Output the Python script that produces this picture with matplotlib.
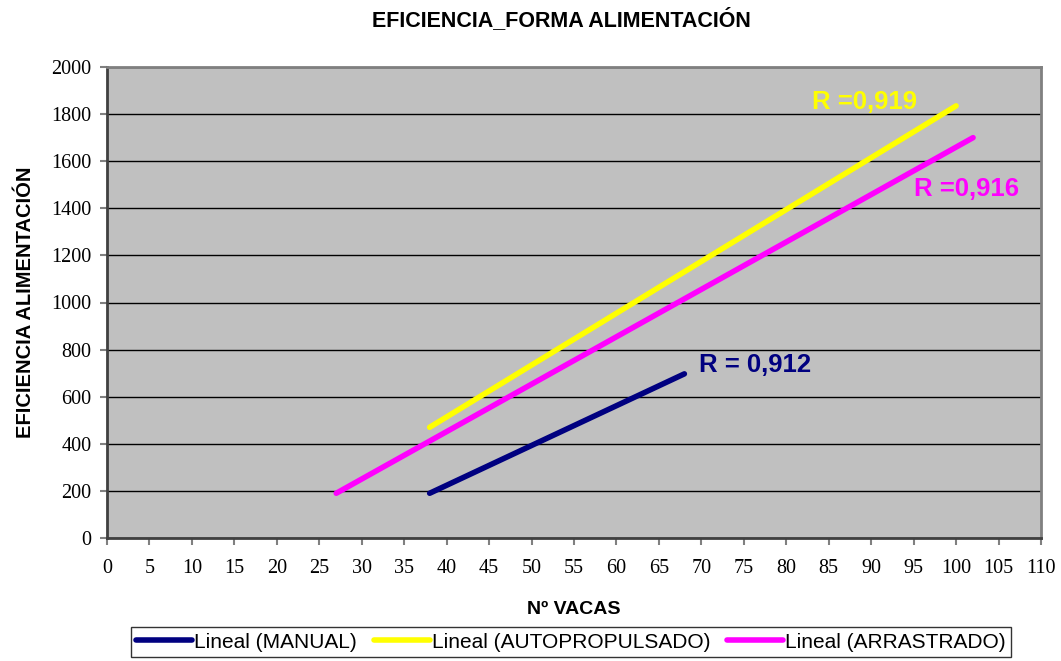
import matplotlib.pyplot as plt

# trend lines (start / end points)
manual_x = [38, 68]
manual_y = [190, 697]
auto_x = [38, 100]
auto_y = [470, 1835]
arras_x = [27, 102]
arras_y = [190, 1700]

labels = ['Lineal (MANUAL)', 'Lineal (AUTOPROPULSADO)', 'Lineal (ARRASTRADO)']
colors = ['#000080', '#FFFF00', '#FF00FF']

x_ticks = list(range(0, 111, 5))
y_ticks = list(range(0, 2001, 200))

fig = plt.figure(figsize=(10.61, 6.61), dpi=100)
ax = fig.add_axes([107 / 1061, 1 - 538 / 661, 934 / 1061, 471 / 661])
ax.set_facecolor('#C0C0C0')

for xs, ys, lab, c in zip([manual_x, auto_x, arras_x], [manual_y, auto_y, arras_y], labels, colors):
    ax.plot(xs, ys, color=c, lw=4, solid_capstyle='round', label=lab, zorder=3)

ax.set_xlim(0, 110)
ax.set_ylim(0, 2000)
ax.set_xticks(x_ticks)
ax.set_yticks(y_ticks)
ax.yaxis.grid(True, color='black', lw=1)
ax.set_axisbelow(True)

serif = 'Liberation Serif'
for t in ax.get_xticklabels() + ax.get_yticklabels():
    t.set_fontfamily(serif)
    t.set_fontsize(14.5)
ax.tick_params(direction='out', length=5, color='#808080', width=1.5)
ax.tick_params(axis='x', pad=10)
ax.tick_params(axis='y', pad=6)

for s in ['top', 'right']:
    ax.spines[s].set_color('#808080')
    ax.spines[s].set_linewidth(2)
for s in ['left', 'bottom']:
    ax.spines[s].set_color('#404040')
    ax.spines[s].set_linewidth(2)

sans = 'Liberation Sans'
ax.set_xlabel('Nº VACAS', fontfamily=sans, fontweight='bold', fontsize=14, labelpad=17)
ax.set_ylabel('EFICIENCIA ALIMENTACIÓN', fontfamily=sans, fontweight='bold', fontsize=14.5, labelpad=12)
fig.text(0.529, 0.97, 'EFICIENCIA_FORMA ALIMENTACIÓN', ha='center', va='center',
         fontfamily=sans, fontweight='bold', fontsize=15.5)

ax.text(83, 1853, 'R =0,919', color=colors[1], fontfamily=sans, fontweight='bold', fontsize=18.5, va='center')
ax.text(95.0, 1480, 'R =0,916', color=colors[2], fontfamily=sans, fontweight='bold', fontsize=18.5, va='center')
ax.text(69.7, 735, 'R = 0,912', color=colors[0], fontfamily=sans, fontweight='bold', fontsize=18.5, va='center')

leg = fig.legend(loc='center', bbox_to_anchor=(571 / 1061, 1 - 642 / 661), ncol=3,
                 frameon=True, fancybox=False, edgecolor='black', handlelength=2.7,
                 handletextpad=0.1, columnspacing=0.8, borderpad=0.25,
                 prop={'family': sans, 'size': 15})
leg.get_frame().set_linewidth(1)

fig.savefig('out.png', dpi=100)
